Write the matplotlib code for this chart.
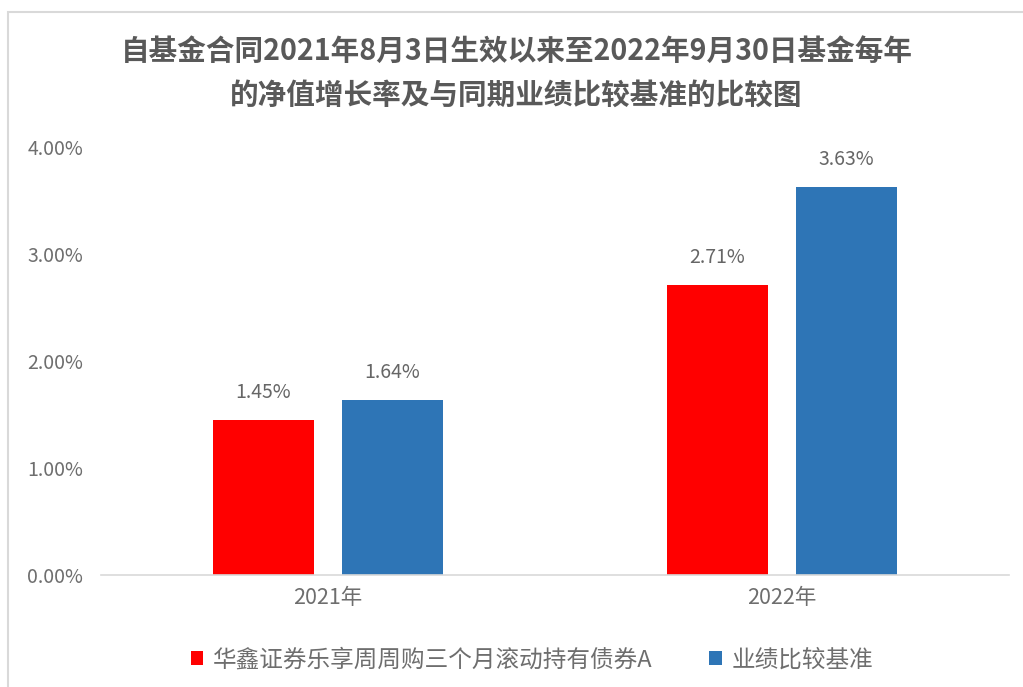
import numpy as np
import matplotlib.pyplot as plt
from matplotlib.patches import Rectangle

# =================================
# DATA
# =================================

years = ["2021年", "2022年"]
fund_values = [1.45, 2.71]
bench_values = [1.64, 3.63]
series_names = ["华鑫证券乐享周周购三个月滚动持有债券A", "业绩比较基准"]

title_text = ("自基金合同2021年8月3日生效以来至2022年9月30日基金每年\n"
              "的净值增长率及与同期业绩比较基准的比较图")

plt.rcParams["font.family"] = ["Noto Sans CJK SC", "DejaVu Sans"]

# =================================
# PLOT
# =================================

fig = plt.figure(figsize=(10.23, 6.87), dpi=100)

# outer chart frame
fig.patches.append(
    Rectangle((8 / 1023, -0.1), 1.2, 1 - 12 / 687 + 0.1,
              transform=fig.transFigure, fill=False,
              edgecolor="#d9d9d9", linewidth=1.5)
)

ax = fig.add_axes([101 / 1023, 1 - 575 / 687, 908 / 1023, 428 / 687])

x = np.arange(len(years))
width = 0.2225
offset = 0.142

bars1 = ax.bar(x - offset, fund_values, width, color="#ff0000", label=series_names[0])
bars2 = ax.bar(x + offset, bench_values, width, color="#2e75b6", label=series_names[1])

# =================================
# VALUE LABELS
# =================================

for bars in (bars1, bars2):
    for b in bars:
        ax.annotate(
            f"{b.get_height():.2f}%",
            (b.get_x() + b.get_width() / 2, b.get_height()),
            xytext=(0, 12), textcoords="offset points",
            ha="center", va="bottom", fontsize=14, color="#666666"
        )

# =================================
# STYLE
# =================================

ax.set_xlim(-0.5, 1.5)
ax.set_ylim(0, 4)
ax.set_yticks([0, 1, 2, 3, 4])
ax.set_yticklabels([f"{v:.2f}%" for v in [0, 1, 2, 3, 4]])
ax.set_xticks(x)
ax.set_xticklabels(years)

for s in ["top", "right", "left"]:
    ax.spines[s].set_visible(False)
ax.spines["bottom"].set_color("#d9d9d9")
ax.spines["bottom"].set_linewidth(1.2)

ax.tick_params(axis="both", length=0, labelsize=14, labelcolor="#6e6e6e")
ax.tick_params(axis="x", labelsize=15.5, pad=9)
ax.tick_params(axis="y", pad=13)

fig.text(0.505, 1 - 73 / 687, title_text, ha="center", va="center",
         fontsize=20.6, fontweight="bold", color="#595959", linespacing=1.58)

leg = fig.legend(
    handles=[bars1, bars2], labels=series_names,
    loc="center", bbox_to_anchor=(0.52, 1 - 660 / 687), ncol=2,
    frameon=False, fontsize=17, handlelength=0.55, handleheight=0.55,
    handletextpad=0.4, columnspacing=2.4
)
for t in leg.get_texts():
    t.set_color("#6e6e6e")

plt.savefig("out.png", dpi=100)
